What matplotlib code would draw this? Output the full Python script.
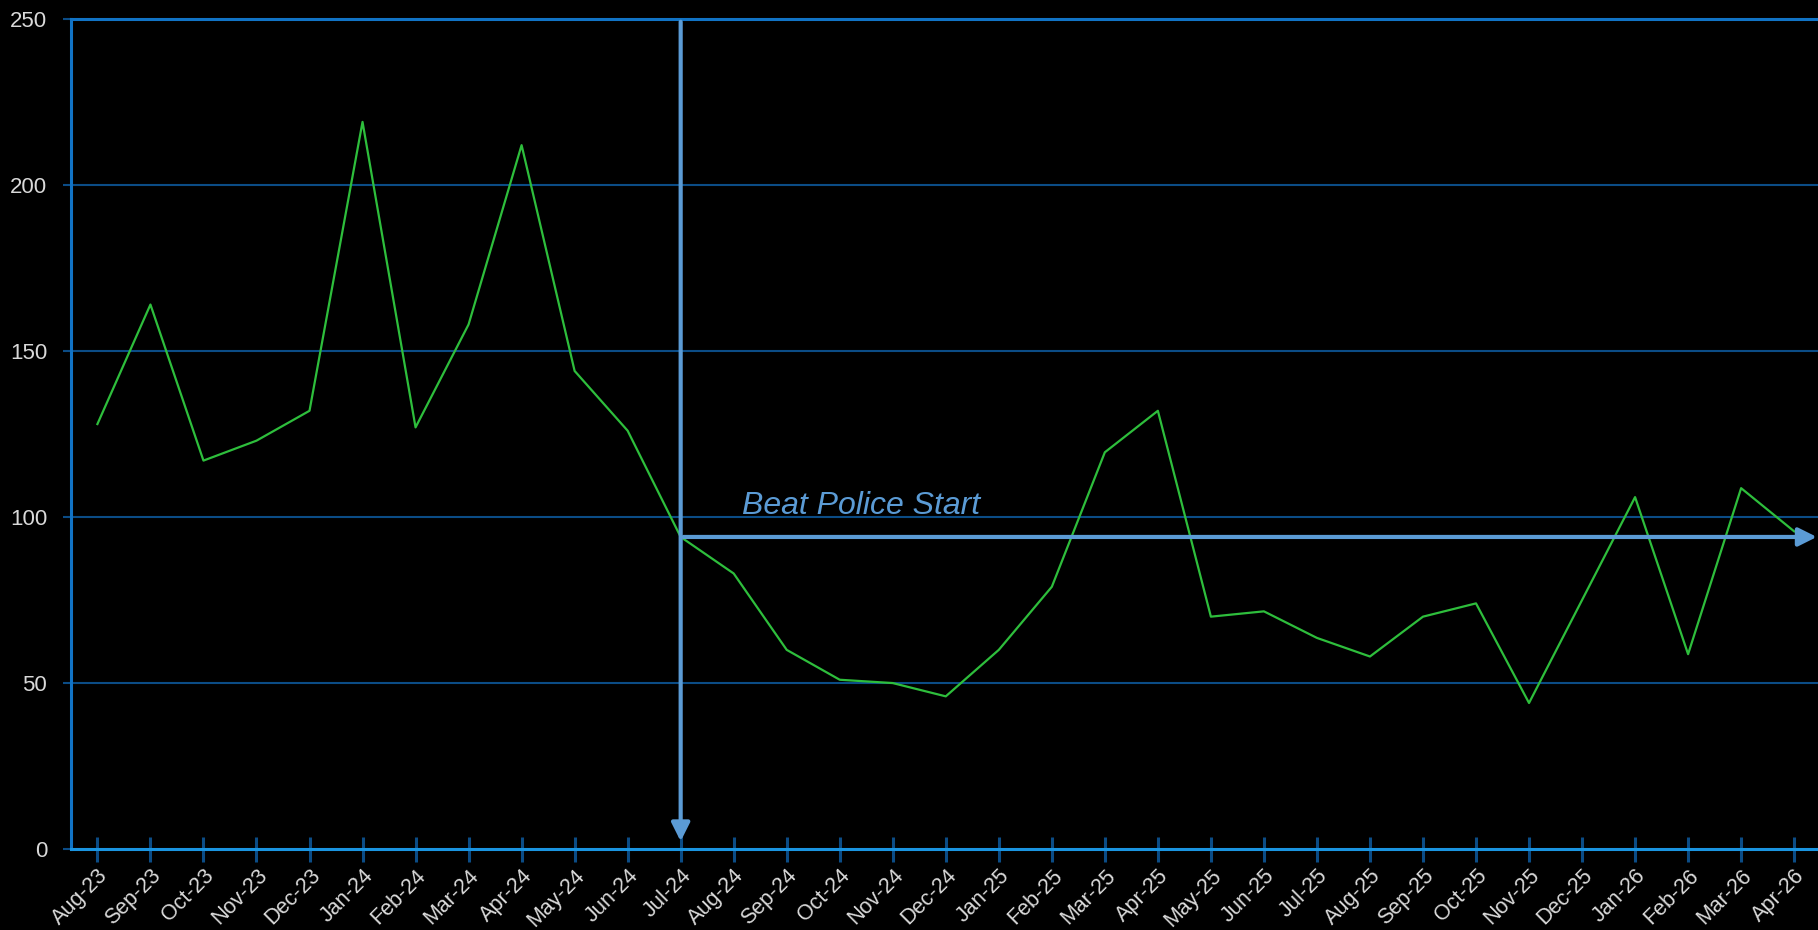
import matplotlib.pyplot as plt
from matplotlib.patches import FancyArrowPatch

plt.rcParams["font.family"] = ["Liberation Sans", "DejaVu Sans"]

BG = "#000000"
GRID = "#0B4C86"
SPINE = "#1173C5"
AXIS_X = "#1A94E0"
ARROW = "#5B9BD5"
LINE = "#2EBE3C"
TEXT = "#D9D9D9"

months = [
    "Aug-23", "Sep-23", "Oct-23", "Nov-23", "Dec-23", "Jan-24", "Feb-24", "Mar-24",
    "Apr-24", "May-24", "Jun-24", "Jul-24", "Aug-24", "Sep-24", "Oct-24", "Nov-24",
    "Dec-24", "Jan-25", "Feb-25", "Mar-25", "Apr-25", "May-25", "Jun-25", "Jul-25",
    "Aug-25", "Sep-25", "Oct-25", "Nov-25", "Dec-25", "Jan-26", "Feb-26", "Mar-26",
    "Apr-26",
]
counts = [
    128, 164, 117, 123, 132, 219, 127, 158,
    212, 144, 126, 94, 83, 60, 51, 50,
    46, 60, 79, 119.5, 132, 70, 71.6, 63.6,
    58, 70, 74, 44, 75, 106, 58.7, 108.7,
    95.7,
]
start_month = "Jul-24"
start_label = "Beat Police Start"
y_ticks = [0, 50, 100, 150, 200, 250]

fig = plt.figure(figsize=(18.18, 9.30), dpi=100, facecolor=BG)
ax = fig.add_axes([0.039, 0.087, 0.961, 0.8926])
ax.set_facecolor(BG)

x = list(range(len(months)))
ax.plot(x, counts, color=LINE, linewidth=1.6, zorder=3)

ax.set_xlim(-0.5, len(months) - 0.55)
ax.set_ylim(0, 250)
ax.set_yticks(y_ticks)
ax.set_xticks(x)
ax.set_xticklabels(months, rotation=45, ha="right", rotation_mode="anchor")

for y in y_ticks[1:-1]:
    ax.axhline(y, color=GRID, linewidth=1.5, zorder=1)

ax.spines["right"].set_visible(False)
ax.spines["top"].set_color(SPINE)
ax.spines["top"].set_linewidth(2.2)
ax.spines["left"].set_color(SPINE)
ax.spines["left"].set_linewidth(2.2)
ax.spines["bottom"].set_color(AXIS_X)
ax.spines["bottom"].set_linewidth(2.2)

ax.tick_params(axis="y", colors=GRID, labelcolor=TEXT, labelsize=16, length=6, width=1.5, pad=11)
ax.tick_params(axis="x", colors=GRID, labelcolor=TEXT, labelsize=15.5, direction="inout", length=18, width=2.2, pad=2.5)
ax.yaxis.get_major_ticks()[-1].tick1line.set_color(SPINE)

# intervention marker
si = months.index(start_month)
sv = counts[si]
head = "-|>,head_length=1.1,head_width=0.55"
v_arrow = FancyArrowPatch((si, 250), (si, 1.5), arrowstyle=head,
                          mutation_scale=10, color=ARROW, linewidth=3, zorder=4, clip_on=False)
h_arrow = FancyArrowPatch((si, sv), (len(months) - 0.52, sv), arrowstyle=head,
                          mutation_scale=10, color=ARROW, linewidth=3, zorder=4, clip_on=False)
ax.add_patch(v_arrow)
ax.add_patch(h_arrow)
ax.text(si + 1.15, sv + 7, start_label, color=ARROW, fontsize=23, fontstyle="italic",
        ha="left", va="baseline", zorder=5)

fig.savefig("out.png", dpi=100, facecolor=BG)
